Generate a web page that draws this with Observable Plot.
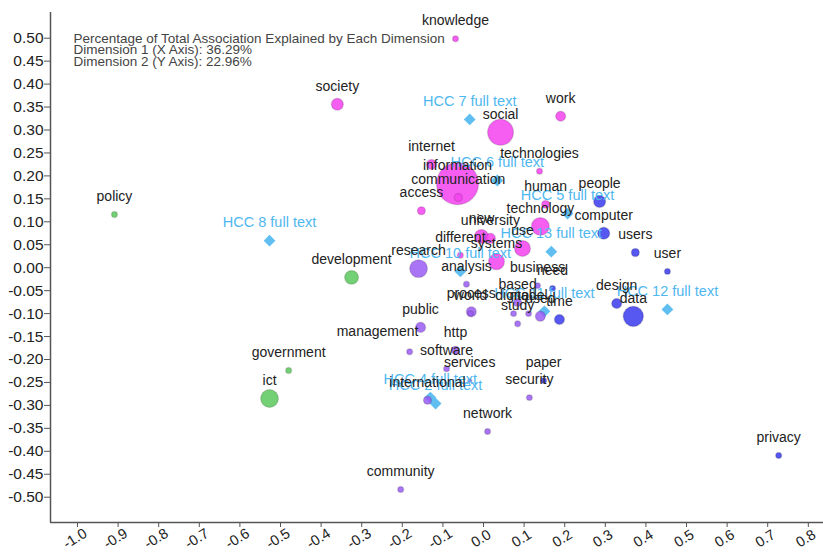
<!DOCTYPE html>
<html>
<head>
<meta charset="utf-8">
<script src="https://cdn.jsdelivr.net/npm/d3@7"></script>
<script src="https://cdn.jsdelivr.net/npm/@observablehq/plot@0.6"></script>
<style>
  body { margin: 0; background: #fff; }
</style>
</head>
<body>
<div id="chart"></div>
<script>
// ---- Row points (words) ----
const words = ["knowledge","society","work","social","internet","information","communication","access",
  "technologies","human","technology","use","new","university","different","systems",
  "research","analysis","business","process","world","digital","based","model","used","study",
  "public","management","http","software","services","international","network","security","community",
  "people","computer","users","user","need","design","data","time","privacy","paper",
  "policy","development","government","ict"];
const dim1 = [-0.069,-0.360,0.190,0.042,-0.128,-0.064,-0.062,-0.153,
  0.138,0.153,0.140,0.096,-0.005,0.017,-0.057,0.032,
  -0.160,-0.042,0.133,-0.030,-0.032,0.074,0.084,0.111,0.140,0.084,
  -0.155,-0.182,-0.069,-0.091,-0.034,-0.138,0.010,0.113,-0.204,
  0.286,0.296,0.374,0.453,0.170,0.328,0.369,0.187,0.727,0.148,
  -0.909,-0.325,-0.480,-0.527];
const dim2 = [0.499,0.356,0.330,0.295,0.225,0.183,0.153,0.124,
  0.210,0.138,0.090,0.042,0.068,0.064,0.027,0.013,
  -0.002,-0.036,-0.039,-0.096,-0.100,-0.100,-0.076,-0.100,-0.106,-0.122,
  -0.130,-0.183,-0.180,-0.220,-0.246,-0.289,-0.357,-0.283,-0.483,
  0.144,0.075,0.033,-0.008,-0.045,-0.078,-0.106,-0.113,-0.409,-0.246,
  0.116,-0.021,-0.224,-0.285];
const mass = [2.0,8.2,5.7,38,5.7,100,3.6,3.6,
  2.0,3.6,18,14.5,11,5.7,2.0,14.5,
  18,2.0,2.0,5.7,2.0,2.0,3.6,2.0,5.7,2.0,
  5.7,2.0,3.6,2.0,0.9,3.6,2.0,2.0,2.0,
  8.2,8.2,3.6,2.0,2.0,5.7,23,5.7,2.0,2.0,
  2.0,11,2.0,18];
const cluster = ["A","A","A","A","A","A","A","A",
  "A","A","A","A","A","A","A","A",
  "B","B","B","B","B","B","B","B","B","B",
  "B","B","B","B","B","B","B","B","B",
  "C","C","C","C","C","C","C","C","C","C",
  "D","D","D","D"];
// label shifted away from its point (data units)
const labelShift = { management: [-0.261, -0.139] };

// ---- Column points (documents) ----
const docs = ["HCC 7 full text","HCC 6 full text","HCC 5 full text","HCC 13 full text","HCC 10 full text",
  "HCC 8 full text","HCC 11 full text","HCC 12 full text","HCC 4 full text","HCC 2 full text"];
const docDim1 = [-0.034,0.034,0.207,0.167,-0.057,-0.527,0.150,0.453,-0.131,-0.118];
const docDim2 = [0.323,0.190,0.118,0.035,-0.008,0.059,-0.095,-0.091,-0.283,-0.296];

// ---- Axes ----
const xTicks = d3.range(-10, 9).map(i => i / 10);
const yTicks = d3.range(-10, 11).map(i => i * 0.05);
const xDomain = [-1.0665, 0.8374];
const yDomain = [-0.5551, 0.5560];

const note = "Percentage of Total Association Explained by Each Dimension\nDimension 1 (X Axis): 36.29%\nDimension 2 (Y Axis): 22.96%";

const clusterNames = ["A","B","C","D"];
const clusterColors = ["#f542f0","#9b5cf5","#3a3aef","#5cc85c"];
const docColor = "#4fb7ef";

const rows = words.map((w, i) => ({word: w, x: dim1[i], y: dim2[i], mass: mass[i], cluster: cluster[i]}));
const docRows = docs.map((d, i) => ({doc: d, x: docDim1[i], y: docDim2[i]}));
const plainLabels = rows.filter(d => !labelShift[d.word]);
const shiftedLabels = rows.filter(d => labelShift[d.word]).map(d => ({word: d.word, x: labelShift[d.word][0], y: labelShift[d.word][1]}));

const fmtY = v => (Math.abs(v) < 1e-9 ? 0 : v).toFixed(2);
const fmtX = v => (Math.abs(v) < 1e-9 ? 0 : v).toFixed(1);

const chart = Plot.plot({
  width: 823,
  height: 554,
  marginLeft: 50,
  marginRight: 0,
  marginTop: 12,
  marginBottom: 32,
  style: {fontFamily: "'Liberation Sans', Arial, sans-serif", background: "#fff", color: "#222"},
  x: {domain: xDomain},
  y: {domain: yDomain},
  r: {type: "sqrt", domain: [0, 100], range: [0, 21]},
  color: {domain: clusterNames, range: clusterColors},
  marks: [
    Plot.ruleX([xDomain[0]], {stroke: "#555", strokeWidth: 1.5}),
    Plot.ruleY([yDomain[0]], {stroke: "#555", strokeWidth: 1.5}),
    Plot.axisY({ticks: yTicks, tickFormat: fmtY, tickSize: 6, tickPadding: 1, fontSize: 15.5, label: null, stroke: "#555", fill: "#222"}),
    Plot.axisX({ticks: xTicks, tickFormat: () => "", tickSize: 5, label: null, stroke: "#555"}),
    Plot.text(xTicks, {x: d => d, text: fmtX, frameAnchor: "bottom", dy: 20, rotate: -32, fontSize: 14.5, fill: "#222"}),
    Plot.text([note], {text: d => d, frameAnchor: "top-left", dx: 23, dy: 22, lineAnchor: "top", textAnchor: "start", fontSize: 13.5, lineHeight: 0.86, fill: "#444"}),
    Plot.dot(docRows, {x: "x", y: "y", symbol: "diamond2", r: 5.3, fill: docColor, fillOpacity: 0.9}),
    Plot.dot(rows, {x: "x", y: "y", r: "mass", fill: "cluster", fillOpacity: 0.85, stroke: "#000", strokeOpacity: 0.12}),
    Plot.text(docRows, {x: "x", y: "y", text: "doc", dy: -18, fontSize: 14.5, fill: docColor}),
    Plot.text(plainLabels, {x: "x", y: "y", text: "word", dy: -18, fontSize: 14, fill: "#222"}),
    Plot.text(shiftedLabels, {x: "x", y: "y", text: "word", fontSize: 14, fill: "#222"})
  ]
});
document.getElementById("chart").appendChild(chart);
</script>
</body>
</html>
